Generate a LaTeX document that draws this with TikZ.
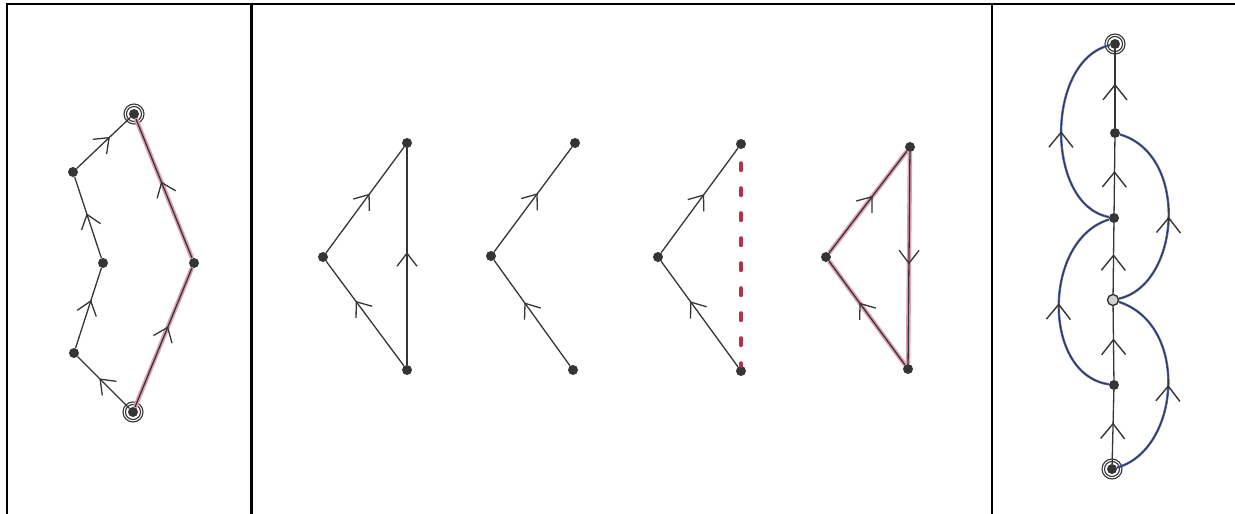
\documentclass[tikz,border=0pt]{standalone}
\usetikzlibrary{arrows.meta,decorations.markings}
\definecolor{ink}{HTML}{353535}
\definecolor{pinkhl}{HTML}{E0A0B2}
\definecolor{reddash}{HTML}{B8304A}
\definecolor{bluec}{HTML}{5068B8}
\tikzset{
  dot/.style={circle, fill=ink, inner sep=0pt, minimum size=10pt},
  hollow/.style={circle, draw=ink, fill=gray!35, line width=1.4pt, inner sep=0pt, minimum size=11pt},
  ring/.style={draw=ink, line width=1.1pt},
  edge/.style={draw=ink, line width=1.3pt},
  fw/.style={postaction={decorate}, decoration={markings, mark=at position #1 with {\arrow[ink, line width=1.3pt]{Straight Barb[length=13pt,width=20pt]}}}},
  fw/.default=0.58,
  fwbig/.style={postaction={decorate}, decoration={markings, mark=at position #1 with {\arrow[ink, line width=1.4pt]{Straight Barb[length=15pt,width=24pt]}}}},
  fwbig/.default=0.56,
  hl/.style={draw=pinkhl, line width=4.5pt},
  bluecurve/.style={draw=bluec, line width=2.4pt},
  inkcurve/.style={draw=ink, line width=0.9pt},
  frame/.style={draw=black, line width=2.5pt},
}
\begin{document}
\begin{tikzpicture}[x=1pt,y=-1pt]
\useasboundingbox (0,0) rectangle (1235,514);
% frame
\draw[frame] (7,514) -- (7,4) -- (1235,4);
\draw[frame] (251.5,4) -- (251.5,514);
\draw[frame] (992,4) -- (992,514);

% ---------- left panel ----------
\node[dot] (A) at (134,114) {};
\node[dot] (B) at (73,172) {};
\node[dot] (C) at (103,263) {};
\node[dot] (D) at (74,353) {};
\node[dot] (E) at (133,412) {};
\node[dot] (F) at (194,263) {};
\draw[ring] (A.center) circle (7.5pt) (A.center) circle (10pt);
\draw[ring] (E.center) circle (7.5pt) (E.center) circle (10pt);
\draw[hl] (E) -- (F) -- (A);
\draw[edge,fw] (E) -- (D);
\draw[edge,fw=0.6] (D) -- (C);
\draw[edge,fw=0.55] (C) -- (B);
\draw[edge,fw=0.62] (B) -- (A);
\draw[edge,fw] (E) -- (F);
\draw[edge,fw=0.55] (F) -- (A);

% ---------- middle panel 1 ----------
\node[dot] (P1t) at (407,143) {};
\node[dot] (P1l) at (323,257) {};
\node[dot] (P1b) at (407,370) {};
\draw[edge,fw=0.62] (P1b) -- (P1l);
\draw[edge,fw=0.56] (P1l) -- (P1t);
\draw[edge,fw=0.52] (P1b) -- (P1t);

% ---------- middle panel 2 ----------
\node[dot] (P2t) at (575,143) {};
\node[dot] (P2l) at (491,256) {};
\node[dot] (P2b) at (573,370) {};
\draw[edge,fw=0.6] (P2b) -- (P2l);
\draw[edge,fw=0.56] (P2l) -- (P2t);

% ---------- middle panel 3 ----------
\node[dot] (P3t) at (741,144) {};
\node[dot] (P3l) at (658,257) {};
\node[dot] (P3b) at (741,371) {};
\draw[edge,fw=0.62] (P3b) -- (P3l);
\draw[edge,fw=0.56] (P3l) -- (P3t);
\draw[draw=reddash, line width=4pt, line cap=round, dash pattern=on 7pt off 18pt] (P3t.south) ++(0,14) coordinate (P3d) -- (P3b.north);

% ---------- middle panel 4 ----------
\node[dot] (P4t) at (910,147) {};
\node[dot] (P4l) at (826,257) {};
\node[dot] (P4b) at (908,369) {};
\draw[hl] (P4b) -- (P4l) -- (P4t) -- (P4b);
\draw[edge,fw=0.6] (P4b) -- (P4l);
\draw[edge,fw=0.56] (P4l) -- (P4t);
\draw[edge,fw=0.53] (P4t) -- (P4b);

% ---------- right panel ----------
\node[dot] (R1) at (1115,44) {};
\node[dot] (R2) at (1115,133) {};
\node[dot] (R3) at (1114,218) {};
\node[hollow] (R4) at (1113,300) {};
\node[dot] (R5) at (1114,385) {};
\node[dot] (R6) at (1112,469) {};
\draw[ring] (R1.center) circle (7.5pt) (R1.center) circle (10pt);
\draw[ring] (R6.center) circle (7.5pt) (R6.center) circle (10pt);
\draw[edge,fwbig] (R2) -- (R1);
\draw[edge,fwbig] (R3) -- (R2);
\draw[edge,fwbig] (R4) -- (R3);
\draw[edge,fwbig] (R5) -- (R4);
\draw[edge,fwbig] (R6) -- (R5);
% blue curves
\draw[bluecurve] (R3) .. controls (1045,205) and (1045,60) .. (R1);
\draw[bluecurve] (R4) .. controls (1180,285) and (1190,155) .. (R2);
\draw[bluecurve] (R5) .. controls (1042,375) and (1042,240) .. (R3);
\draw[bluecurve] (R6) .. controls (1180,450) and (1190,325) .. (R4);
\draw[inkcurve,fwbig=0.5] (R3) .. controls (1045,205) and (1045,60) .. (R1);
\draw[inkcurve,fwbig=0.5] (R4) .. controls (1180,285) and (1190,155) .. (R2);
\draw[inkcurve,fwbig=0.5] (R5) .. controls (1042,375) and (1042,240) .. (R3);
\draw[inkcurve,fwbig=0.5] (R6) .. controls (1180,450) and (1190,325) .. (R4);
\end{tikzpicture}
\end{document}
